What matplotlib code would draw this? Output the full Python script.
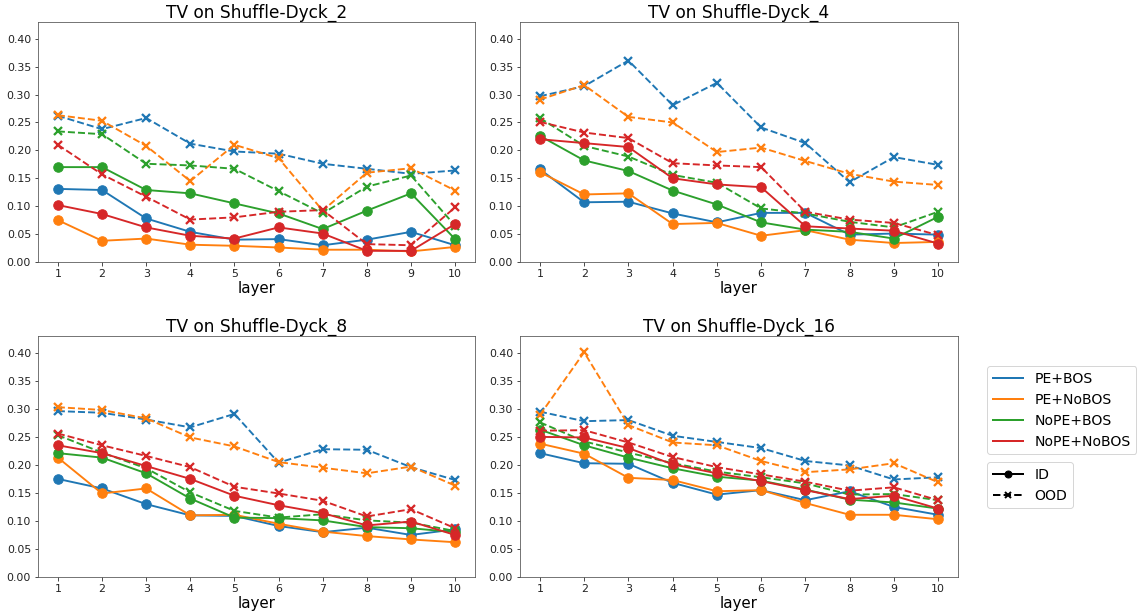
import matplotlib
matplotlib.use("Agg")
import matplotlib.pyplot as plt
from matplotlib.lines import Line2D
import numpy as np

layers = list(range(1, 10 + 1))
models = ["PE+BOS", "PE+NoBOS", "NoPE+BOS", "NoPE+NoBOS"]
colors = ["#1f77b4", "#ff7f0e", "#2ca02c", "#d62728"]
titles = ["TV on Shuffle-Dyck_2", "TV on Shuffle-Dyck_4", "TV on Shuffle-Dyck_8", "TV on Shuffle-Dyck_16"]
yticks = [0.00, 0.05, 0.10, 0.15, 0.20, 0.25, 0.30, 0.35, 0.40]

# Shuffle-Dyck_2
d2_pe_bos_id = [0.131, 0.129, 0.078, 0.054, 0.040, 0.041, 0.030, 0.040, 0.054, 0.030]
d2_pe_bos_ood = [0.262, 0.238, 0.258, 0.212, 0.198, 0.194, 0.176, 0.167, 0.158, 0.164]
d2_pe_nobos_id = [0.075, 0.038, 0.042, 0.031, 0.029, 0.026, 0.022, 0.022, 0.019, 0.027]
d2_pe_nobos_ood = [0.263, 0.253, 0.208, 0.145, 0.210, 0.186, 0.092, 0.160, 0.168, 0.128]
d2_nope_bos_id = [0.170, 0.170, 0.129, 0.123, 0.105, 0.087, 0.059, 0.092, 0.123, 0.041]
d2_nope_bos_ood = [0.234, 0.229, 0.176, 0.173, 0.167, 0.127, 0.087, 0.135, 0.155, 0.065]
d2_nope_nobos_id = [0.102, 0.086, 0.062, 0.047, 0.042, 0.062, 0.051, 0.020, 0.020, 0.068]
d2_nope_nobos_ood = [0.210, 0.157, 0.117, 0.076, 0.080, 0.090, 0.093, 0.032, 0.030, 0.098]

# Shuffle-Dyck_4
d4_pe_bos_id = [0.166, 0.107, 0.108, 0.087, 0.071, 0.088, 0.088, 0.049, 0.051, 0.049]
d4_pe_bos_ood = [0.297, 0.315, 0.361, 0.281, 0.321, 0.241, 0.213, 0.143, 0.188, 0.174]
d4_pe_nobos_id = [0.161, 0.121, 0.123, 0.068, 0.070, 0.047, 0.057, 0.040, 0.034, 0.036]
d4_pe_nobos_ood = [0.291, 0.317, 0.260, 0.250, 0.197, 0.205, 0.181, 0.158, 0.144, 0.138]
d4_nope_bos_id = [0.226, 0.182, 0.163, 0.128, 0.103, 0.071, 0.058, 0.054, 0.042, 0.081]
d4_nope_bos_ood = [0.258, 0.208, 0.189, 0.156, 0.142, 0.096, 0.087, 0.072, 0.062, 0.090]
d4_nope_nobos_id = [0.220, 0.213, 0.206, 0.150, 0.139, 0.134, 0.064, 0.060, 0.056, 0.033]
d4_nope_nobos_ood = [0.251, 0.232, 0.222, 0.177, 0.173, 0.170, 0.090, 0.076, 0.070, 0.048]

# Shuffle-Dyck_8
d8_pe_bos_id = [0.175, 0.158, 0.130, 0.110, 0.109, 0.091, 0.080, 0.088, 0.075, 0.085]
d8_pe_bos_ood = [0.296, 0.293, 0.281, 0.267, 0.291, 0.204, 0.228, 0.227, 0.196, 0.173]
d8_pe_nobos_id = [0.213, 0.149, 0.158, 0.110, 0.111, 0.095, 0.081, 0.073, 0.067, 0.062]
d8_pe_nobos_ood = [0.303, 0.298, 0.283, 0.249, 0.233, 0.205, 0.195, 0.185, 0.197, 0.163]
d8_nope_bos_id = [0.221, 0.213, 0.185, 0.140, 0.106, 0.105, 0.101, 0.089, 0.087, 0.080]
d8_nope_bos_ood = [0.253, 0.222, 0.194, 0.151, 0.118, 0.106, 0.112, 0.101, 0.097, 0.082]
d8_nope_nobos_id = [0.235, 0.221, 0.198, 0.175, 0.145, 0.128, 0.114, 0.092, 0.099, 0.075]
d8_nope_nobos_ood = [0.256, 0.235, 0.216, 0.196, 0.161, 0.149, 0.136, 0.108, 0.121, 0.087]

# Shuffle-Dyck_16
d16_pe_bos_id = [0.221, 0.203, 0.202, 0.168, 0.147, 0.155, 0.137, 0.153, 0.125, 0.111]
d16_pe_bos_ood = [0.295, 0.278, 0.280, 0.252, 0.241, 0.230, 0.207, 0.199, 0.174, 0.178]
d16_pe_nobos_id = [0.238, 0.220, 0.177, 0.173, 0.153, 0.155, 0.132, 0.111, 0.111, 0.103]
d16_pe_nobos_ood = [0.289, 0.401, 0.271, 0.240, 0.235, 0.207, 0.187, 0.192, 0.203, 0.169]
d16_nope_bos_id = [0.263, 0.235, 0.213, 0.194, 0.179, 0.172, 0.156, 0.138, 0.133, 0.122]
d16_nope_bos_ood = [0.276, 0.242, 0.222, 0.203, 0.188, 0.178, 0.167, 0.147, 0.148, 0.137]
d16_nope_nobos_id = [0.250, 0.249, 0.230, 0.201, 0.185, 0.171, 0.155, 0.139, 0.145, 0.122]
d16_nope_nobos_ood = [0.261, 0.262, 0.240, 0.214, 0.196, 0.183, 0.170, 0.154, 0.160, 0.137]

panels = [
    [(d2_pe_bos_id, d2_pe_bos_ood), (d2_pe_nobos_id, d2_pe_nobos_ood),
     (d2_nope_bos_id, d2_nope_bos_ood), (d2_nope_nobos_id, d2_nope_nobos_ood)],
    [(d4_pe_bos_id, d4_pe_bos_ood), (d4_pe_nobos_id, d4_pe_nobos_ood),
     (d4_nope_bos_id, d4_nope_bos_ood), (d4_nope_nobos_id, d4_nope_nobos_ood)],
    [(d8_pe_bos_id, d8_pe_bos_ood), (d8_pe_nobos_id, d8_pe_nobos_ood),
     (d8_nope_bos_id, d8_nope_bos_ood), (d8_nope_nobos_id, d8_nope_nobos_ood)],
    [(d16_pe_bos_id, d16_pe_bos_ood), (d16_pe_nobos_id, d16_pe_nobos_ood),
     (d16_nope_bos_id, d16_nope_bos_ood), (d16_nope_nobos_id, d16_nope_nobos_ood)],
]

DPI = 72
W, H = 1137, 613
fig = plt.figure(figsize=(W / DPI, H / DPI), dpi=DPI)
boxes = [(38, 22, 475, 262), (520, 22, 958, 262), (38, 336, 475, 577), (520, 336, 958, 577)]
axes = []
for (x0, y0, x1, y1) in boxes:
    ax = fig.add_axes([x0 / W, 1 - y1 / H, (x1 - x0) / W, (y1 - y0) / H])
    axes.append(ax)

for ax, title, data in zip(axes, titles, panels):
    for color, (idv, oodv) in zip(colors, data):
        ax.plot(layers, idv, color=color, linestyle='-', marker='o', markersize=9.5, linewidth=1.9)
        ax.plot(layers, oodv, color=color, linestyle='--', marker='x', markersize=8,
                markeredgewidth=2.3, linewidth=1.9)
    ax.set_ylim(0, 0.43)
    ax.set_xticks(layers)
    ax.set_yticks(yticks)
    ax.set_yticklabels([f"{v:.2f}" for v in yticks])
    ax.tick_params(labelsize=11, length=3.5, width=0.8, colors='#222222')
    ax.set_title(title, fontsize=17, pad=4)
    ax.set_xlabel("layer", fontsize=15, labelpad=2)
    for s in ax.spines.values():
        s.set_color('#555555')
        s.set_linewidth(0.8)

h1 = [Line2D([0], [0], color=c, linewidth=2) for c in colors]
fig.legend(h1, models, loc='upper left', bbox_to_anchor=(987 / W, 1 - 366 / H),
           fontsize=14, frameon=True, borderaxespad=0, handlelength=2.2)
h2 = [Line2D([0], [0], color='black', linewidth=2, marker='o', markersize=7),
      Line2D([0], [0], color='black', linewidth=2, linestyle='--', marker='x', markersize=6,
             markeredgewidth=2)]
fig.legend(h2, ["ID", "OOD"], loc='upper left', bbox_to_anchor=(987 / W, 1 - 462 / H),
           fontsize=14, frameon=True, borderaxespad=0, handlelength=2.2)

fig.savefig("out.png", dpi=DPI)
